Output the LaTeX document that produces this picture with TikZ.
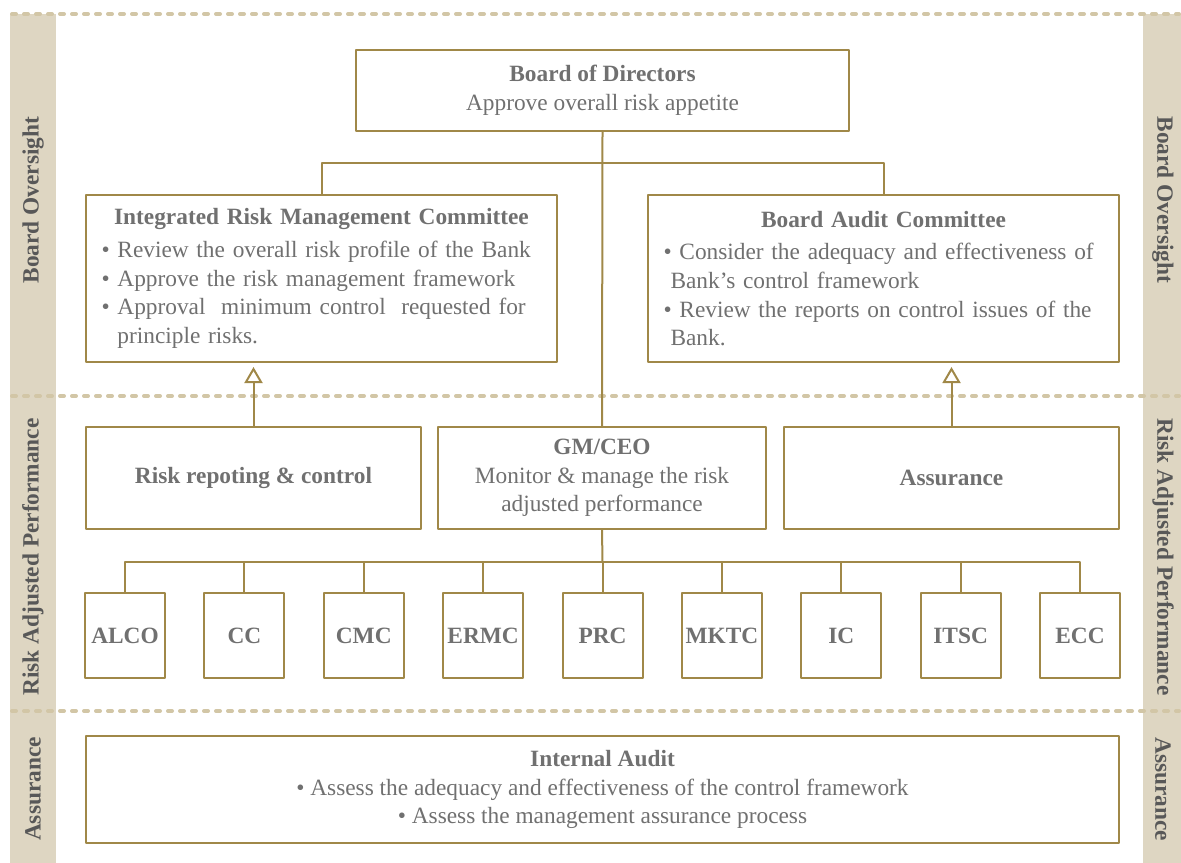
\documentclass[tikz,border=0pt]{standalone}
\usepackage{fontspec}
\setmainfont{Liberation Serif}
\usetikzlibrary{arrows.meta}

\definecolor{bandbeige}{RGB}{222,214,194}
\definecolor{dashbeige}{RGB}{210,198,166}
\definecolor{framegold}{RGB}{160,136,72}
\definecolor{textgray}{RGB}{112,112,112}
\definecolor{labelgray}{RGB}{88,88,88}

\tikzset{
  box/.style={draw=framegold,line width=1.5pt,fill=white,text=textgray,
    inner sep=0pt,font=\fontsize{17.5}{21.5}\selectfont},
  committee/.style={box,minimum width=60pt,minimum height=63.75pt,
    font=\fontsize{17.5}{21.5}\selectfont\bfseries},
  panel/.style={box,minimum width=353.25pt,minimum height=125.25pt,
    text width=330pt,align=left},
  link/.style={draw=framegold,line width=1.5pt},
  uparrow/.style={link,shorten >=3pt,
    -{Triangle[open,length=12pt,width=13.5pt,fill=white]}},
  sepline/.style={dashbeige,line width=3pt,line cap=round,dash pattern=on 3pt off 6pt},
  bandlabel/.style={text=labelgray,font=\fontsize{17.5}{21}\selectfont\bfseries},
}

\begin{document}
\begin{tikzpicture}[x=0.75pt,y=-0.75pt,line join=round]
        \useasboundingbox (0,0) rectangle (1181,863);

        % Side bands
        \fill[bandbeige] (10,14) rectangle (56,863);
        \fill[bandbeige] (1143,14) rectangle (1181,863);
        \draw[sepline] (12,14) -- (1179,14);
        \draw[sepline] (12,396) -- (1179,396);
        \draw[sepline] (12,711) -- (1179,711);

        \node[bandlabel,rotate=90] (lboard) at (33,200) {Board Oversight};
        \node[bandlabel,rotate=90] (lperf) at (33,557) {Risk Adjusted Performance};
        \node[bandlabel,rotate=90] (lassur) at (33,789) {Assurance};
        \node[bandlabel,rotate=-90] (rboard) at (1163,200) {Board Oversight};
        \node[bandlabel,rotate=-90] (rperf) at (1163,557) {Risk Adjusted Performance};
        \node[bandlabel,rotate=-90] (rassur) at (1163,789) {Assurance};

        % Board level
        \node[box,minimum width=369.75pt,minimum height=60.75pt,align=center] (bod)
            at (602.5,90.5) {\textbf{Board of Directors}\\Approve overall risk appetite};

        \node[panel] (irmc) at (321.5,278.5)
            {\makebox[\hsize]{\textbf{Integrated Risk Management Committee}}\\[3pt]
             \textbullet\ Review the overall risk profile of the Bank\\
             \textbullet\ Approve the risk management framework\\
             \textbullet\ Approval\ \ minimum control\ \ requested for\\
             \phantom{\textbullet}\ principle risks.};

        \node[panel] (bac) at (883.5,278.5)
            {\makebox[\hsize]{\textbf{Board Audit Committee}}\\[3pt]
             \textbullet\ Consider the adequacy and effectiveness of\\
             \hspace*{0.3em}Bank's control framework\\
             \textbullet\ Review the reports on control issues of the\\
             \hspace*{0.3em}Bank.};

        % Management level
        \node[box,minimum width=251.25pt,minimum height=76.5pt,font=\fontsize{17.5}{21.5}\selectfont\bfseries] (rrc)
            at (253.5,478) {Risk repoting \& control};
        \node[box,minimum width=246pt,minimum height=76.5pt,align=center] (gm)
            at (602,478) {\textbf{GM/CEO}\\Monitor \& manage the risk\\adjusted performance};
        \node[box,minimum width=251.25pt,minimum height=76.5pt,font=\fontsize{17.5}{21.5}\selectfont\bfseries] (asr)
            at (951.5,478) {Assurance};

        % Committees
        \foreach \name [count=\i] in {ALCO,CC,CMC,ERMC,PRC,MKTC,IC,ITSC,ECC}
            \node[committee] (c\i) at ({125+119.375*(\i-1)},635.5) {\name};

        % Internal audit
        \node[box,minimum width=774.75pt,minimum height=80.25pt,align=center] (ia)
            at (602.5,789.5)
            {\textbf{Internal Audit}\\
             \textbullet\ Assess the adequacy and effectiveness of the control framework\\
             \textbullet\ Assess the management assurance process};

        % Connectors
        \coordinate (split) at (602.5,163);
        \coordinate (bus) at (602.5,562);
        \draw[link] (bod.south) -- (gm.north);
        \draw[link] (irmc.north) |- (split) -| (bac.north);
        \draw[link] (gm.south) -- (bus);
        \draw[link] (c1.north) |- (bus) -| (c9.north);
        \foreach \i in {2,...,8}
            \draw[link] (c\i.north) -- ++(0,-31);
        \draw[uparrow] (rrc.north) -- (rrc.north |- irmc.south);
        \draw[uparrow] (asr.north) -- (asr.north |- bac.south);

    \end{tikzpicture}
\end{document}
